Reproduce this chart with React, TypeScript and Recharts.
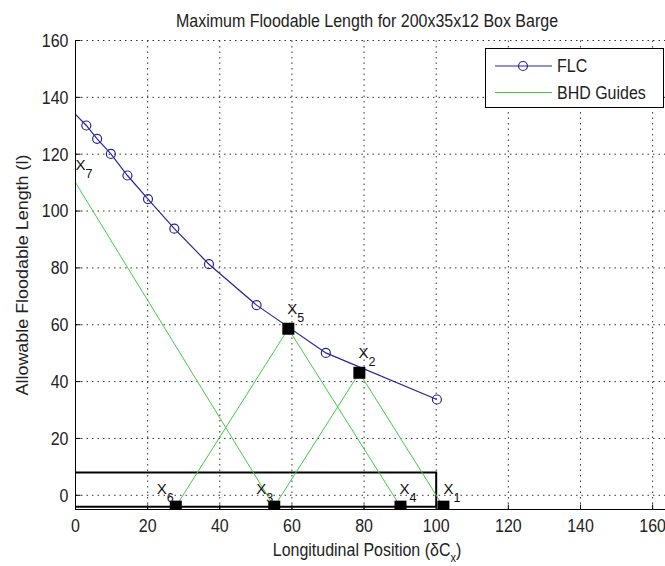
import { ComposedChart, Line, Scatter, XAxis, YAxis, CartesianGrid } from 'recharts'

const FONT = '"Liberation Sans", Arial, Helvetica, sans-serif'
const STRETCH = 1.12
const FLC_COLOR = '#27279a'
const GUIDE_COLOR = '#44c944'

// axis ticks
const xTicks = [0, 20, 40, 60, 80, 100, 120, 140, 160]
const yTicks = [0, 20, 40, 60, 80, 100, 120, 140, 160]

// floodable length curve (first point drawn without a marker)
const flcX = [0, 3.0, 6.0, 9.8, 14.4, 20.1, 27.4, 37.0, 50.2, 69.4, 100.2]
const flcY = [134, 130.1, 125.4, 120.1, 112.5, 104.2, 93.8, 81.3, 66.9, 50.1, 33.7]

// bulkhead points X1..X6
const bhdNames = ['1', '2', '3', '4', '5', '6']
const bhdX = [102.0, 78.7, 55.1, 90.1, 59.0, 27.8]
const bhdY = [-4, 43.1, -4, -4, 58.6, -4]

// X7: start of first guide, label only
const apexName = '7'
const apexX = 0
const apexY = 110

// green guides
const guideAX = [0, 55.1] // X7 -> X3
const guideAY = [110, -4]
const guideBX = [27.8, 59.0, 90.1] // X6 -> X5 -> X4
const guideBY = [-4, 58.6, -4]
const guideCX = [55.1, 78.7, 102.0] // X3 -> X2 -> X1
const guideCY = [-4, 43.1, -4]

// barge outline
const hullX = [0, 100, 100, 0]
const hullY = [8, 8, -4, -4]

const pts = (xs: number[], ys: number[]) => xs.map((x, i) => ({ x, y: ys[i] }))

const flcData = pts(flcX, flcY)
const hullData = pts(hullX, hullY)
const guideA = pts(guideAX, guideAY)
const guideB = pts(guideBX, guideBY)
const guideC = pts(guideCX, guideCY)
const markData = [
  ...bhdNames.map((name, i) => ({ x: bhdX[i], y: bhdY[i], name, square: true })),
  { x: apexX, y: apexY, name: apexName, square: false },
]

// label shift (px) from the point to the "X"
const LABEL_SHIFT: Record<string, [number, number]> = {
  '1': [0, -13], '2': [-1, -15], '3': [-18, -13], '4': [-1, -13],
  '5': [-1, -15], '6': [-19, -13], '7': [0, -13],
}

function BhdMark(props: any) {
  const { cx, cy, payload } = props
  const [dx, dy] = LABEL_SHIFT[payload.name] ?? [0, -13]
  return (
    <g>
      {payload.square && <rect x={cx - 6} y={cy - 6} width={12} height={12} fill="#000" />}
      <text x={cx + dx} y={cy + dy} fontSize={15} fontFamily={FONT} fill="#111">
        X<tspan fontSize={12.5} dy={8}>{payload.name}</tspan>
      </text>
    </g>
  )
}

function FlcDot(props: any) {
  const { cx, cy, index } = props
  if (index === 0) return <g key="d0" />
  return <circle key={`d${index}`} cx={cx} cy={cy} r={4.5} fill="none" stroke={FLC_COLOR} strokeWidth={1.2} />
}

function StretchText({ x, y, size = 16, anchor = 'middle', children }: any) {
  return (
    <text transform={`translate(${x},${y}) scale(1,${STRETCH})`} textAnchor={anchor}
      fontSize={size} fontFamily={FONT} fill="#222">
      {children}
    </text>
  )
}

function BottomTick({ x, y, payload }: any) {
  return (
    <g>
      <line x1={x} x2={x} y1={y} y2={y - 5} stroke="#000" />
      <StretchText x={x} y={y + 22.5}>{payload.value}</StretchText>
    </g>
  )
}

function TopTick({ x, y }: any) {
  return <line x1={x} x2={x} y1={y} y2={y + 5} stroke="#000" />
}

function LeftTick({ x, y, payload }: any) {
  return (
    <g>
      <line x1={x} x2={x + 5} y1={y} y2={y} stroke="#000" />
      <StretchText x={x - 7} y={y + 6.4} anchor="end">{payload.value}</StretchText>
    </g>
  )
}

export default function App() {
  return (
    <div style={{ position: 'absolute', left: 0, top: 0, width: 665, height: 566, overflow: 'hidden', background: '#fff' }}>
      <ComposedChart width={700} height={566} margin={{ top: 40.5, right: 11.3, bottom: 0, left: 0 }}>
        <CartesianGrid stroke="#333" strokeDasharray="1.5 4" />
        <XAxis xAxisId="top" orientation="top" type="number" domain={[0, 170]} ticks={xTicks}
          allowDataOverflow height={0} axisLine={{ stroke: '#000' }} tickLine={false}
          tickSize={0} tickMargin={0} tick={<TopTick />} />
        <XAxis type="number" dataKey="x" domain={[0, 170]} ticks={xTicks} allowDataOverflow
          height={56.5} axisLine={{ stroke: '#000' }} tickLine={false} tickSize={0} tickMargin={0}
          tick={<BottomTick />} interval={0} />
        <YAxis type="number" dataKey="y" domain={[-5, 160]} ticks={yTicks} allowDataOverflow
          width={75.5} axisLine={{ stroke: '#000' }} tickLine={false} tickSize={0} tickMargin={0}
          tick={<LeftTick />} interval={0} />

        <Line data={hullData} dataKey="y" stroke="#000" strokeWidth={2} dot={false} isAnimationActive={false} />
        <Line data={guideA} dataKey="y" stroke={GUIDE_COLOR} strokeWidth={1} dot={false} isAnimationActive={false} />
        <Line data={guideB} dataKey="y" stroke={GUIDE_COLOR} strokeWidth={1} dot={false} isAnimationActive={false} />
        <Line data={guideC} dataKey="y" stroke={GUIDE_COLOR} strokeWidth={1} dot={false} isAnimationActive={false} />
        <Line data={flcData} dataKey="y" stroke={FLC_COLOR} strokeWidth={1.2} dot={FlcDot} isAnimationActive={false} />
        <Scatter data={markData} dataKey="y" shape={BhdMark} isAnimationActive={false} />
      </ComposedChart>

      <svg width={665} height={566} style={{ position: 'absolute', left: 0, top: 0, pointerEvents: 'none' }}>
        <StretchText x={367} y={27}>Maximum Floodable Length for 200x35x12 Box Barge</StretchText>
        <StretchText x={367} y={556}>
          Longitudinal Position (δC<tspan fontSize={11} dy={5}>x</tspan><tspan dy={-5}>)</tspan>
        </StretchText>
        <text transform={`translate(28,275) rotate(-90) scale(${STRETCH},1)`} textAnchor="middle"
          fontSize={16} fontFamily={FONT} fill="#222">
          Allowable Floodable Length (l)
        </text>

        <rect x={485.5} y={48.5} width={178} height={59} fill="#fff" stroke="#000" />
        <line x1={495} x2={552} y1={66} y2={66} stroke={FLC_COLOR} strokeWidth={1.2} />
        <circle cx={523} cy={66} r={4.5} fill="none" stroke={FLC_COLOR} strokeWidth={1.2} />
        <StretchText x={557} y={72.4} anchor="start">FLC</StretchText>
        <line x1={495} x2={552} y1={92.5} y2={92.5} stroke={GUIDE_COLOR} />
        <StretchText x={557} y={98.9} anchor="start">BHD Guides</StretchText>
      </svg>
    </div>
  )
}
